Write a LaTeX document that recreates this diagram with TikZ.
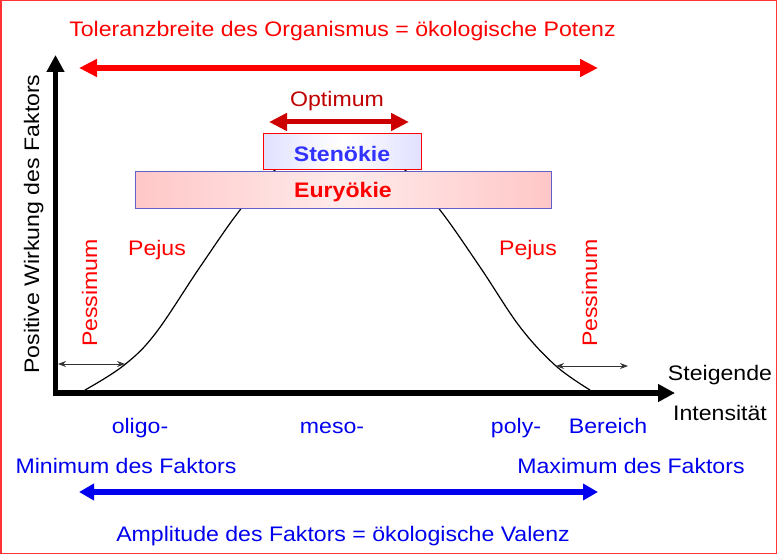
\documentclass[tikz,border=0pt]{standalone}
\usepackage{fontspec}
\setmainfont{Liberation Sans}[FakeStretch=1.1]
\usetikzlibrary{arrows.meta}
\definecolor{tred}{HTML}{FF0000}
\definecolor{dred}{HTML}{C00000}
\definecolor{ared}{HTML}{CC0000}
\definecolor{tblue}{HTML}{0000EE}
\definecolor{sblue}{HTML}{3333FF}
\definecolor{eborder}{HTML}{6060C8}
\begin{document}
\begin{tikzpicture}[x=1pt,y=-1pt,
  txt/.style={inner sep=0pt,font=\fontsize{21}{24}\selectfont},
  redtxt/.style={txt,text=tred},
  bluetxt/.style={txt,text=tblue},
  blacktxt/.style={txt,text=black},
  bigred/.style={draw=tred,line width=6pt,{Triangle[length=18pt,width=17pt]}-{Triangle[length=18pt,width=17pt]}},
  optarrow/.style={draw=ared,line width=5pt,{Triangle[length=18pt,width=17pt]}-{Triangle[length=18pt,width=17pt]}},
  bigblue/.style={draw=tblue,line width=6pt,{Triangle[length=15pt,width=16pt]}-{Triangle[length=15pt,width=16pt]}},
  axis/.style={draw=black,line width=5.5pt,-{Triangle[length=17pt,width=17pt]}},
  small/.style={draw=black!80,line width=0.9pt,{Stealth[length=8pt,width=6pt]}-{Stealth[length=8pt,width=6pt]}},
  curve/.style={draw=black,line width=1.2pt}]
\useasboundingbox (0,0) rectangle (778,556);
% frame
\draw[tred!80,line width=1.5pt] (0.75,0.75) rectangle (776.5,553.5);

% curve (behind boxes)
\draw[curve] plot[smooth,tension=0.6] coordinates {(85,390) (123,366) (155,334) (200,267) (240,210) (277,168) (300,152) (340,148) (380,152) (403,168) (440,210) (480,267) (520,327) (556,366) (590,390)};

% axes
\coordinate (ybot) at (55.5,396);
\coordinate (ytop) at (55.5,55);
\coordinate (xl) at (53,393);
\coordinate (xr) at (675,393);
\draw[axis] (ybot) -- (ytop);
\draw[axis] (xl) -- (xr);

% title + red arrow
\node[redtxt,anchor=base] (title) at (342.5,37) {Toleranzbreite des Organismus = ökologische Potenz};
\coordinate (tolL) at (79,68);
\coordinate (tolR) at (598,68);
\draw[bigred] (tolL) -- (tolR);

% optimum
\node[txt,text=dred,anchor=base] (opt) at (337,107) {Optimum};
\coordinate (optL) at (269,122);
\coordinate (optR) at (409,122);
\draw[optarrow] (optL) -- (optR);

% boxes
\node[draw=eborder,line width=1pt,minimum width=416pt,minimum height=36pt,inner sep=0pt,
      left color=red!22,right color=red!22,middle color=red!8] (eury) at (343,190) {};
\node[font=\fontsize{21}{24}\selectfont\bfseries,text=tred,anchor=base] (eurytxt) at (343,197) {Euryökie};
\node[draw=tred,line width=1pt,minimum width=158pt,minimum height=36pt,inner sep=0pt,
      left color=blue!12,right color=blue!12,middle color=white] (steno) at (342,152) {};
\node[font=\fontsize{21}{24}\selectfont\bfseries,text=sblue,anchor=base] (stenotxt) at (342,161) {Stenökie};

% y label
\node[blacktxt,rotate=90,anchor=base] (ylab) at (39,224) {Positive Wirkung des Faktors};

% Pessimum / Pejus
\node[redtxt,rotate=90,anchor=base] (pessL) at (97,293) {Pessimum};
\node[redtxt,rotate=90,anchor=base] (pessR) at (597,293) {Pessimum};
\node[redtxt,anchor=base] (pejL) at (157,255) {Pejus};
\node[redtxt,anchor=base] (pejR) at (528,255) {Pejus};

% small arrows
\coordinate (sL1) at (58,364);
\coordinate (sL2) at (125,364);
\draw[small] (sL1) -- (sL2);
\coordinate (sR1) at (556,366);
\coordinate (sR2) at (628,366);
\draw[small] (sR1) -- (sR2);

% x label
\node[blacktxt,anchor=base] (steig) at (720,380) {Steigende};
\node[blacktxt,anchor=base] (inten) at (720,420) {Intensität};

% ranges
\node[bluetxt,anchor=base] (oligo) at (140,433) {oligo-};
\node[bluetxt,anchor=base] (meso) at (332,433) {meso-};
\node[bluetxt,anchor=base] (poly) at (516,433) {poly-};
\node[bluetxt,anchor=base] (bereich) at (608,433) {Bereich};

\node[bluetxt,anchor=base] (minf) at (126,473) {Minimum des Faktors};
\node[bluetxt,anchor=base] (maxf) at (631,473) {Maximum des Faktors};
\coordinate (bL) at (79,492);
\coordinate (bR) at (598,492);
\draw[bigblue] (bL) -- (bR);
\node[bluetxt,anchor=base] (ampl) at (343,541) {Amplitude des Faktors = ökologische Valenz};
\end{tikzpicture}
\end{document}
